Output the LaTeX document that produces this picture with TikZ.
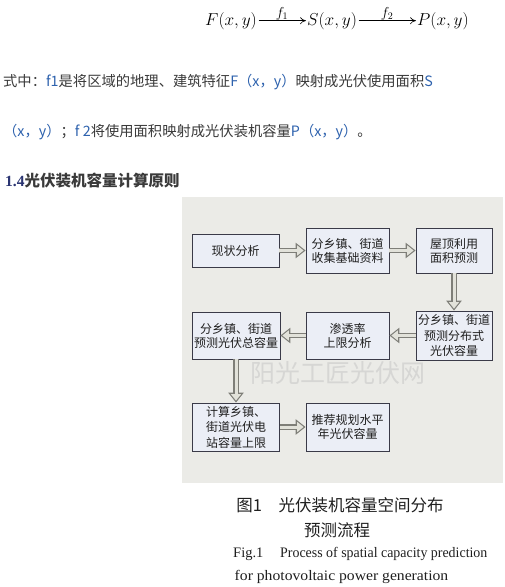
\documentclass[tikz,border=0pt]{standalone}
\usepackage{fontspec}
\usepackage{amsmath}
\usepackage{graphicx}
\setmainfont{Liberation Serif}
\newfontfamily\cjk{Noto Sans CJK SC}
\usetikzlibrary{arrows.meta}
\definecolor{bgray}{HTML}{EBEBE7}
\definecolor{boxfill}{HTML}{EBEEF6}
\definecolor{boxline}{HTML}{3A3A48}
\definecolor{arrline}{HTML}{7E7E78}
\definecolor{arrfill}{HTML}{E2E2DA}
\definecolor{linkblue}{HTML}{2E62AE}
\definecolor{txtgray}{HTML}{3A3A3A}
\definecolor{headnavy}{HTML}{2A3472}
\definecolor{wmark}{HTML}{D6D6D4}
\tikzset{
  stepbox/.style={draw=boxline, line width=0.8pt, fill=boxfill, align=center,
    font=\cjk\fontsize{12}{14}\selectfont, text=black!88, inner sep=0pt},
  tallbox/.style={stepbox, font=\cjk\fontsize{12}{15.5}\selectfont},
  hollowout/.style={draw=arrline, line width=5.5pt, -{Triangle[length=10pt,width=15pt]}},
  hollowin/.style={draw=arrfill, line width=3pt, shorten >=2pt, -{Triangle[length=6.5pt,width=10pt]}},
  mathnode/.style={inner sep=0pt, font=\fontsize{19}{21}\selectfont},
  maplabel/.style={above=-0.5pt, inner sep=1pt, font=\fontsize{14}{14}\selectfont},
  maplink/.style={-{To[length=6pt,width=7pt]}, line width=0.6pt, shorten <=1.5pt, shorten >=1pt},
  captext/.style={text=black!88, inner sep=0pt}
}
\begin{document}
\begin{tikzpicture}[x=1pt,y=-1pt]
\useasboundingbox (0,0) rectangle (505,587);
\fill[white] (0,0) rectangle (505,587);
% formula
\node[mathnode, anchor=base west] (F) at (205,25) {$F(x,y)$};
\node[mathnode, anchor=base west] (S) at (307,25) {$S(x,y)$};
\node[mathnode, anchor=base west] (P) at (417,25) {$P(x,y)$};
\draw[maplink] (F.east) -- node[maplabel]{$f_1$} (S.west);
\draw[maplink] (S.east) -- node[maplabel]{$f_2$} (P.west);
% paragraph
\node[anchor=base west, inner sep=0pt, text=txtgray, font=\cjk\fontsize{14.3}{17}\selectfont] (l1) at (3,86)
  {式中：\textcolor{linkblue}{f1}是将区域的地理、建筑特征\textcolor{linkblue}{F（x，y）}映射成光伏使用面积\textcolor{linkblue}{S}};
\node[anchor=base west, inner sep=0pt, text=txtgray, font=\cjk\fontsize{14.3}{17}\selectfont] (l2) at (3,136)
  {\textcolor{linkblue}{（x，y）}；\textcolor{linkblue}{f 2}将使用面积映射成光伏装机容量\textcolor{linkblue}{P（x，y）}。};
\node[anchor=base west, inner sep=0pt, text=txtgray] (head) at (5,186)
  {\textcolor{headnavy}{\bfseries\fontsize{15.5}{17}\selectfont 1.4}{\cjk\bfseries\fontsize{15.5}{17}\selectfont 光伏装机容量计算原则}};
% diagram background
\fill[bgray] (182,197) rectangle (503,483);
\node[text=wmark, font=\cjk\fontsize{25}{25}\selectfont, inner sep=0pt] (wm) at (338,373) {阳光工匠光伏网};
% boxes
\node[stepbox, minimum width=87pt, minimum height=33pt] (b1) at (235.5,250.5) {现状分析};
\node[stepbox, minimum width=83pt, minimum height=45pt] (b2) at (347.5,250.5) {分乡镇、街道\\收集基础资料};
\node[stepbox, minimum width=76pt, minimum height=45pt] (b3) at (454,250.5) {屋顶利用\\面积预测};
\node[stepbox, minimum width=88pt, minimum height=47pt] (b4) at (236,335.5) {分乡镇、街道\\预测光伏总容量};
\node[stepbox, minimum width=83pt, minimum height=47pt] (b5) at (347.5,335.5) {渗透率\\上限分析};
\node[tallbox, minimum width=76pt, minimum height=49pt] (b6) at (454,335.5) {分乡镇、街道\\预测分布式\\光伏容量};
\node[tallbox, minimum width=87pt, minimum height=48pt] (b7) at (236,427) {计算乡镇、\\街道光伏电\\站容量上限};
\node[stepbox, minimum width=83pt, minimum height=48pt] (b8) at (347.5,427) {推荐规划水平\\年光伏容量};
% hollow arrows
\foreach \a/\b in {b1.east/b2.west, b2.east/b3.west, b3.south/b6.north, b6.west/b5.east, b5.west/b4.east, b4.south/b7.north, b7.east/b8.west}{
  \draw[hollowout] (\a) -- (\b);
  \draw[hollowin] (\a) -- (\b);
}
% caption
\node[captext, font=\cjk\fontsize{16.5}{18}\selectfont] (c1) at (340,505) {图1\hspace{1em}光伏装机容量空间分布};
\node[captext, font=\cjk\fontsize{16.5}{18}\selectfont] (c2) at (337,530) {预测流程};
\node[captext, anchor=west, font=\fontsize{14.5}{16}\selectfont] (c3a) at (233,554) {Fig.1};
\node[captext, anchor=west, font=\fontsize{14.5}{16}\selectfont] (c3b) at (280,554) {\scalebox{0.96}[1]{Process of spatial capacity prediction}};
\node[captext, font=\fontsize{14.5}{16}\selectfont] (c4) at (341.5,577) {\scalebox{1.08}[1]{for photovoltaic power generation}};
\end{tikzpicture}
\end{document}
